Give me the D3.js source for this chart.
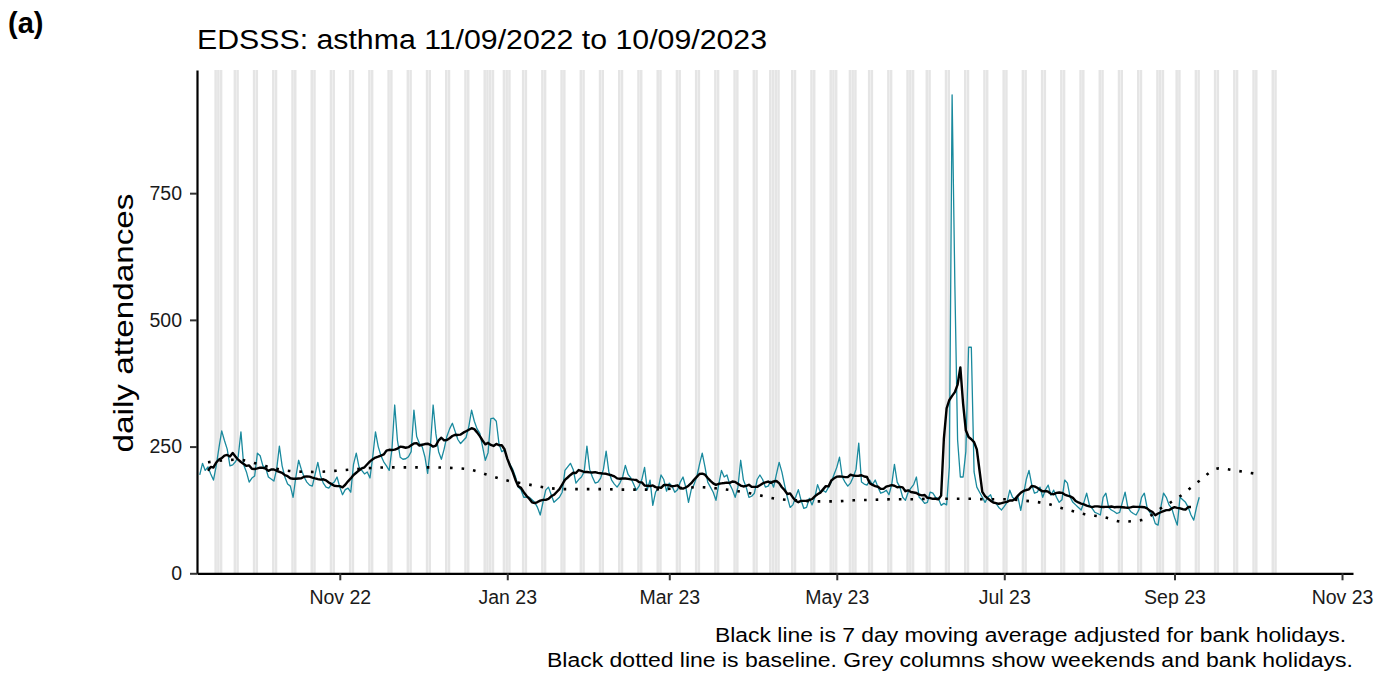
<!DOCTYPE html>
<html><head><meta charset="utf-8">
<script src="https://cdn.jsdelivr.net/npm/d3@7"></script>
<style>body{margin:0;background:#fff;} svg{display:block;font-family:"Liberation Sans",Arial,sans-serif;}</style>
</head><body><svg id="chart" width="1374" height="675"></svg>
<script>
// ---- data ----
const startDate = "2022-09-11";
// daily attendances, one row per week (Sun..Sat), last value = Sun 10 Sep 2023
const attendances = [
194,217,203,210,196,184,212,
248,281,262,245,212,214,220,
230,279,214,200,180,188,192,
237,232,212,208,190,186,182,
205,251,212,190,176,172,150,
190,223,205,190,180,174,172,
195,219,192,178,170,168,176,
180,190,170,155,165,168,160,
215,237,210,203,196,200,188,
230,279,250,232,220,212,203,
245,332,262,229,225,226,230,
240,322,270,256,250,230,197,
250,332,275,240,225,245,270,
285,296,280,264,256,262,268,
290,322,300,285,276,250,223,
238,305,306,300,255,240,243,
225,215,205,190,170,165,150,
150,150,145,140,130,115,140,
164,170,155,140,145,150,160,
203,210,217,205,178,185,190,
200,251,205,190,178,180,188,
205,241,200,184,176,170,178,
190,213,195,188,176,164,172,
185,209,165,184,134,160,168,
194,185,162,178,172,160,165,
180,190,170,140,165,175,190,
215,237,210,180,170,160,144,
175,203,190,194,176,165,150,
170,223,184,170,150,152,158,
185,194,185,170,172,182,170,
195,219,200,174,150,130,135,
150,165,144,128,130,148,135,
150,175,160,164,160,170,180,
195,209,229,190,180,172,178,
190,205,257,180,176,174,184,
175,184,170,158,160,164,155,
175,215,180,170,150,144,160,
168,175,190,150,145,138,140,
160,158,150,148,134,138,135,
210,944,570,263,190,190,240,
446,446,200,170,160,150,140,
150,155,140,138,130,125,132,
140,164,150,145,150,124,155,
185,203,175,158,160,170,150,
165,174,154,164,150,140,145,
184,178,150,140,135,130,125,
140,158,135,128,120,118,115,
150,158,130,125,122,118,120,
140,160,130,122,118,115,125,
150,158,130,120,115,98,95,
130,158,150,135,128,110,95,
150,145,140,130,115,105,130,
150
];
const baselineDates = ["2022-09-14","2022-09-18","2022-09-25","2022-10-02","2022-10-09","2022-10-16","2022-10-23","2022-10-30",
"2022-11-06","2022-11-13","2022-11-20","2022-11-27","2022-12-04","2022-12-11","2022-12-18","2022-12-25",
"2023-01-01","2023-01-08","2023-01-15","2023-01-22","2023-01-29","2023-02-05","2023-02-12","2023-02-19","2023-02-26",
"2023-03-05","2023-03-12","2023-03-19","2023-03-26","2023-04-02","2023-04-09","2023-04-16","2023-04-23","2023-04-30",
"2023-05-07","2023-05-14","2023-05-21","2023-05-28","2023-06-04","2023-06-11","2023-06-18","2023-06-25",
"2023-07-02","2023-07-09","2023-07-16","2023-07-23","2023-07-30","2023-08-06","2023-08-13","2023-08-20","2023-08-27",
"2023-09-03","2023-09-10","2023-09-17","2023-09-24","2023-10-01"];
const baselineValues = [219,222,224,216,206,201,200,202,
205,208,209,209,209,208,205,194,
183,176,169,166,166,166,165,165,166,
168,170,167,162,155,147,144,142,142,
144,145,146,146,147,147,147,146,
146,143,138,127,117,111,102,105,128,
152,182,207,202,196];
const bankHolidays = ["2022-09-19","2022-12-26","2022-12-27","2023-01-02","2023-04-07","2023-04-10",
"2023-05-01","2023-05-08","2023-05-29","2023-08-28"];
const shadeStart = "2022-09-12", shadeEnd = "2023-10-08";
const xTickDates = ["2022-11-01","2023-01-01","2023-03-01","2023-05-01","2023-07-01","2023-09-01","2023-11-01"];
const yTicks = [0,250,500,750];
const titleText = "EDSSS: asthma 11/09/2022 to 10/09/2023";
const yLabel = "daily attendances";
const captionLines = ["Black line is 7 day moving average adjusted for bank holidays.",
"Black dotted line is baseline. Grey columns show weekends and bank holidays."];

// ---- chart ----
const parse = d3.utcParse("%Y-%m-%d");
const fmt = d3.utcFormat("%Y-%m-%d");
const DAY = 864e5;
const t0 = parse(startDate);
const hol = new Set(bankHolidays);
const series = attendances.map((v,i)=>{const dt=new Date(+t0 + i*DAY); return {date:dt, value:v, bh:hol.has(fmt(dt))};});
// centred 7-day moving average, bank holidays left out of each window
const ma = [];
for (let i=3;i<series.length-3;i++){
  const win = series.slice(i-3,i+4).filter(d=>!d.bh);
  ma.push({date:series[i].date, value:d3.mean(win, d=>d.value)});
}
const baseline = baselineDates.map((d,i)=>({date:parse(d), value:baselineValues[i]}));
const shadeDays = d3.utcDays(parse(shadeStart), new Date(+parse(shadeEnd)+DAY))
  .filter(d => d.getUTCDay()===0 || d.getUTCDay()===6 || hol.has(fmt(d)));

const svg = d3.select("#chart");
const x = d3.scaleUtc().domain([parse("2022-09-10"), parse("2023-11-05")]).range([197,1353]);
const y = d3.scaleLinear().domain([0,993]).range([573.3,70]);

// grey columns
svg.append("g").selectAll("rect").data(shadeDays).join("rect")
  .attr("x", d=>x(new Date(+d - 0.45*DAY)) - 0.6)
  .attr("width", d=>x(new Date(+d + 0.45*DAY)) - x(new Date(+d - 0.45*DAY)))
  .attr("y", y(993)).attr("height", y(0)-y(993))
  .attr("fill", "#e5e5e5");

const line = d3.line().x(d=>x(d.date)).y(d=>y(d.value));
svg.append("path").datum(series).attr("d", line)
  .attr("fill","none").attr("stroke","#1a8a9e").attr("stroke-width",1.3).attr("stroke-linejoin","round");
svg.append("path").datum(ma).attr("d", line)
  .attr("fill","none").attr("stroke","#000").attr("stroke-width",2.4).attr("stroke-linejoin","round");
svg.append("path").datum(baseline).attr("d", d3.line().x(d=>x(d.date)).y(d=>y(d.value)).curve(d3.curveMonotoneX))
  .attr("fill","none").attr("stroke","#000").attr("stroke-width",2.6).attr("stroke-dasharray","2.6 9");

// axes
const xAxis = svg.append("g").attr("transform","translate(0,573.3)")
  .call(d3.axisBottom(x).tickValues(xTickDates.map(parse)).tickFormat(d3.utcFormat("%b %y")).tickSize(7).tickSizeOuter(0).tickPadding(10));
const yAxis = svg.append("g").attr("transform","translate(197,0)")
  .call(d3.axisLeft(y).tickValues(yTicks).tickSize(7).tickSizeOuter(0).tickPadding(8));
[xAxis,yAxis].forEach(g=>{
  g.select(".domain").attr("stroke","#000").attr("stroke-width",2.2);
  g.selectAll(".tick line").attr("stroke","#333").attr("stroke-width",2);
  g.selectAll(".tick text").attr("fill","#1a1a1a").attr("font-size","19.5px").attr("font-family","'Liberation Sans',Arial,sans-serif");
});

// texts
svg.append("text").attr("x",8).attr("y",33).attr("font-weight","bold").attr("font-size","29px").text("(a)");
svg.append("text").attr("x",197).attr("y",49).attr("font-size","27px").attr("textLength",570).attr("lengthAdjust","spacingAndGlyphs").text(titleText);
svg.append("text").attr("transform","translate(133,323) rotate(-90)").attr("text-anchor","middle")
  .attr("font-size","27px").attr("textLength",259).attr("lengthAdjust","spacingAndGlyphs").text(yLabel);
svg.append("text").attr("x",1346).attr("y",642).attr("text-anchor","end").attr("font-size","20px")
  .attr("textLength",631).attr("lengthAdjust","spacingAndGlyphs").text(captionLines[0]);
svg.append("text").attr("x",1353).attr("y",667).attr("text-anchor","end").attr("font-size","20px")
  .attr("textLength",806).attr("lengthAdjust","spacingAndGlyphs").text(captionLines[1]);
</script></body></html>
